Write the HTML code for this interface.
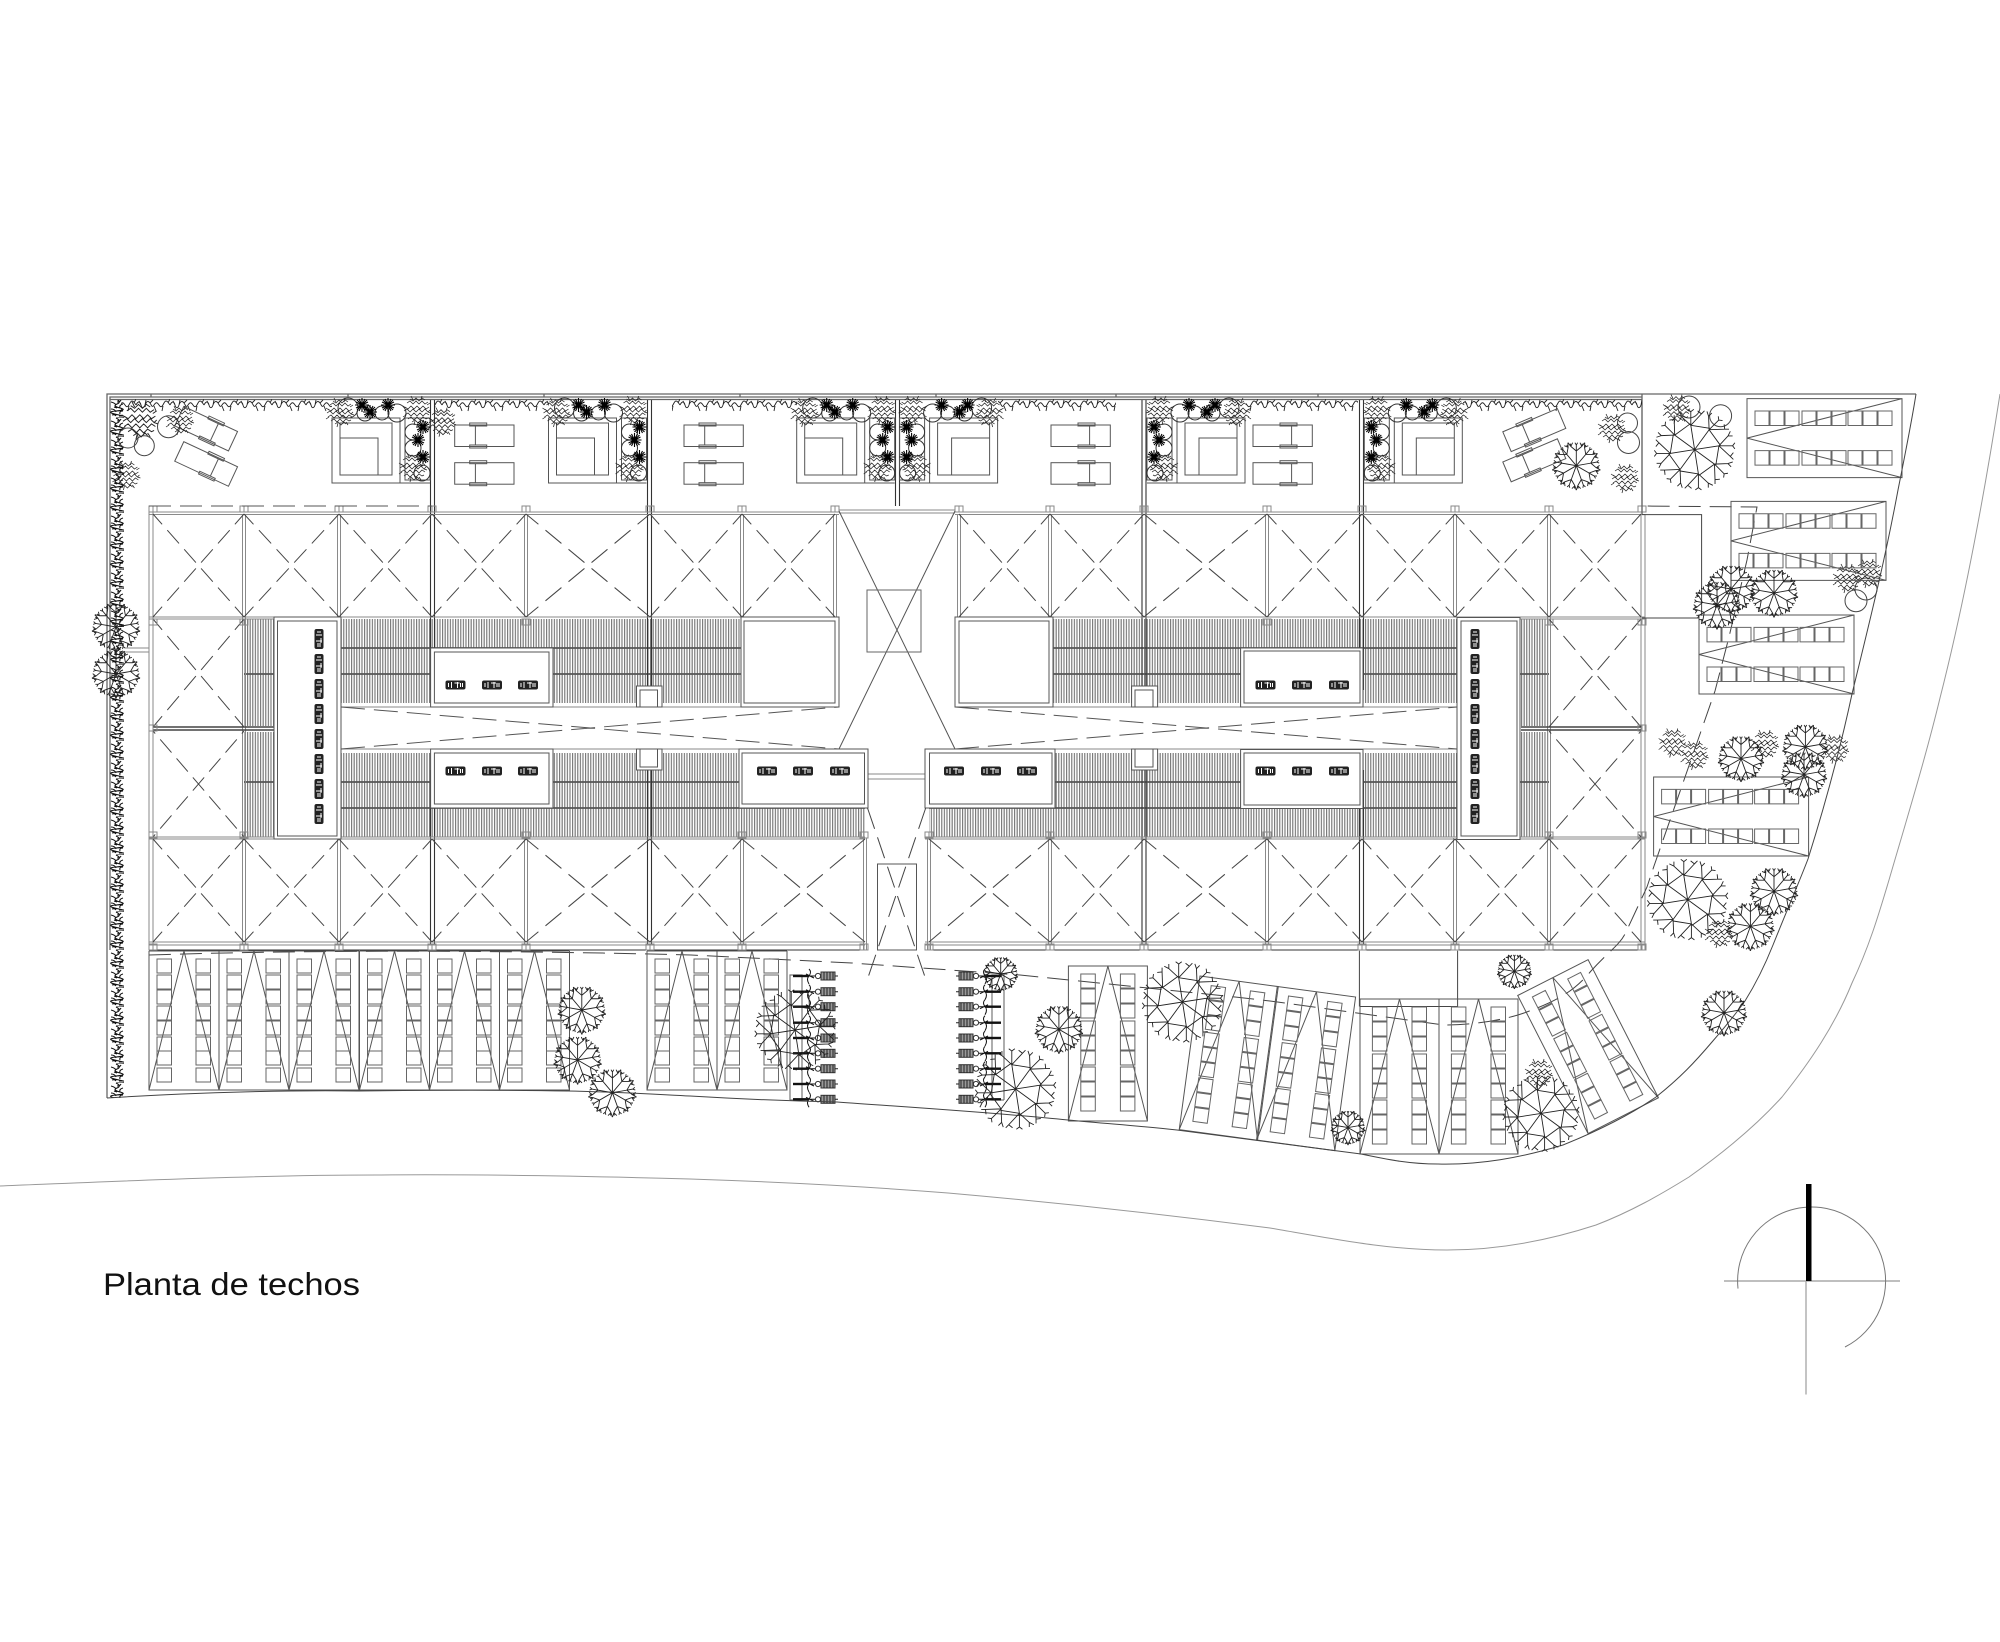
<!DOCTYPE html>
<html lang="es"><head><meta charset="utf-8"><title>Planta de techos</title>
<style>
html,body{margin:0;padding:0;background:#fff}
svg{display:block}
.x path{stroke-dasharray:18 8;stroke-dashoffset:4}
.c path{stroke-dasharray:18 8;stroke-dashoffset:14.5}
</style></head><body>
<svg xmlns="http://www.w3.org/2000/svg" width="2000" height="1642" viewBox="0 0 2000 1642">
<defs>
<pattern id="cor" width="2.6" height="10" patternUnits="userSpaceOnUse"><rect width="2.6" height="10" fill="#fff"/><rect width="1.15" height="10" fill="#777"/></pattern>
<pattern id="vh" x="0" y="399" width="34" height="13" patternUnits="userSpaceOnUse"><path fill="none" stroke="#222" stroke-width=".9" d="M0 6c2-4 4-4 5 0s3 3 4 0 3-5 5-2 2 5 4 2 3-3 5 0 3 2 5-2 4-1 6 2M5 6l-2-4M9 6l1-5M18 7l2 5M27 7l-1 5M32 4l2-4M14 4l3-3"/></pattern>
<pattern id="vv" x="110" y="0" width="14" height="19" patternUnits="userSpaceOnUse"><path fill="none" stroke="#111" stroke-width="1.1" d="M6 0q6 3 1 5t3 4-4 3 3 4-3 3M1 3q4 1 5 3M13 5q-4 1-3 4M1 10q4 0 5 3M13 12q-4 0-3 3M2 16q3-1 4 1M11 1q-1 2-4 2M4 8l3 1M9 17l4 0"/></pattern>
<path id="b1" vector-effect="non-scaling-stroke" d="M0 0V-32L-12-42M0-32L12-42M-12-42L-18-50M-12-42L-8-50M-12-42L-13-48M12-42L18-50M12-42L8-50M12-42L13-48M0-32V-45L-3-50M0-45L3-50"/>
<g id="t"><use href="#b1"/><use href="#b1" transform="rotate(40)"/><use href="#b1" transform="rotate(80)"/><use href="#b1" transform="rotate(120)"/><use href="#b1" transform="rotate(160)"/><use href="#b1" transform="rotate(200)"/><use href="#b1" transform="rotate(240)"/><use href="#b1" transform="rotate(280)"/><use href="#b1" transform="rotate(320)"/></g>
<path id="b2" vector-effect="non-scaling-stroke" d="M0 0L-5-32L-18-44M-5-32L-5-50M-5-32L9-47M-18-44L-24-47M-18-44L-18-50M9-47L4-51M9-47L13-51M-5-32L20-28M-5-50L-9-53M-5-50L-1-53"/>
<g id="T"><use href="#b2"/><use href="#b2" transform="rotate(45)"/><use href="#b2" transform="rotate(90)"/><use href="#b2" transform="rotate(135)"/><use href="#b2" transform="rotate(180)"/><use href="#b2" transform="rotate(225)"/><use href="#b2" transform="rotate(270)"/><use href="#b2" transform="rotate(315)"/></g>
<path id="s" fill="none" stroke="#222" stroke-width=".75" d="M-7-11l3 2 3-3 3 3 3-3 3 2M-10-7l3-2 3 3 3-3 3 3 3-3 3 3 3-2M-12-3l3 2 3-3 3 3 3-3 3 3 3-3 3 3 3-2M-13 1l3-2 3 3 3-3 3 3 3-3 3 3 3-3 3 3 2-2M-12 5l3-2 3 3 3-3 3 3 3-3 3 3 3-3 3 2M-9 9l3-2 3 3 3-3 3 3 3-3 3 2 2-1M-5 12l3-2 3 3 3-3 2 2M-6-14l2 4M5-14l-1 4M13-7l-3 2M14 3l-3-1M-14-4l3 2M-14 7l3-2M-3 15l1-4M8 13l-2-3"/>
<path id="k" fill="none" stroke="#000" stroke-width="1.1" d="M-7 0H7M0-7V7M-5-5L5 5M-5 5L5-5M-6-3L6 3M-6 3L6-3M-3-6L3 6M-3 6L3-6"/>
<g id="un" fill="none" stroke="#555">
<rect x="0" y="418" width="68" height="65"/><path d="M68 483H98"/><rect x="73" y="418" width="25" height="62"/>
<rect x="8" y="423" width="52" height="52"/><path d="M8 438H46V475"/>
<g stroke="#333"><circle cx="16" cy="408" r="10"/><circle cx="33" cy="413" r="8"/><circle cx="50" cy="413" r="7"/><circle cx="65" cy="413" r="9"/><circle cx="81" cy="432" r="8"/><circle cx="81" cy="448" r="8"/><circle cx="90" cy="473" r="8"/></g>
<use href="#s" x="8" y="412"/><use href="#s" x="85" y="410"/><use href="#s" x="81" y="467"/>
<use href="#k" x="30" y="405"/><use href="#k" x="38" y="412"/><use href="#k" x="56" y="405"/><use href="#k" x="91" y="427"/><use href="#k" x="86" y="440"/><use href="#k" x="91" y="457"/>
</g>
<g id="ch" fill="none" stroke="#555"><rect width="59.3" height="21.5"/><rect x="15" y="-2" width="17" height="3"/><rect x="15" y="20" width="17" height="3"/><path d="M20.7 1V20"/></g>
<g id="chm" fill="none" stroke="#555"><rect width="59.3" height="21.5"/><rect x="27" y="-2" width="17" height="3"/><rect x="27" y="20" width="17" height="3"/><path d="M38.6 1V20"/></g>
<path id="sc8" fill="none" stroke="#666" d="M0 8h14.5v14h-14.5zM0 24h14.5v14h-14.5zM0 39h14.5v14h-14.5zM0 55h14.5v14h-14.5zM0 70h14.5v14h-14.5zM0 86h14.5v14h-14.5zM0 100h14.5v14h-14.5zM0 117h14.5v14h-14.5z"/>
<path id="sc9" fill="none" stroke="#666" d="M0 8h14.5v14h-14.5zM0 23h14.5v14h-14.5zM0 38h14.5v14h-14.5zM0 55h14.5v14h-14.5zM0 70h14.5v14h-14.5zM0 85h14.5v14h-14.5zM0 101h14.5v14h-14.5zM0 116h14.5v14h-14.5zM0 131h14.5v14h-14.5z"/>
<g id="b70"><path fill="none" stroke="#555" d="M0 0H70M0 0V139H70V0M0 139L35 0L70 139"/><use href="#sc8" x="8"/><use href="#sc8" x="47"/></g>
<g id="b78"><path fill="none" stroke="#555" d="M0 0H79V155H0ZM0 155L39.5 0L79 155"/><use href="#sc9" x="12.4"/><use href="#sc9" x="52"/></g>
<g id="ic"><rect x="-10" y="-4.5" width="20" height="9" rx="2" fill="#222"/><path fill="none" stroke="#fff" stroke-width="1" d="M-7-2V2M-4-3V3M-1-2H4M2-3V3M5-2V2M7-2V2"/></g>
<g id="iv"><use href="#ic" transform="rotate(90)"/></g>
<g id="rk"><path fill="none" stroke="#111" stroke-width="2.4" d="M0 0H15"/><path fill="none" stroke="#111" stroke-width="1" d="M16-7q3 3 0 7q-3 3 0 8M13-2l8 4M15 0h7"/><circle cx="25" cy="0" r="2.6" fill="none" stroke="#333"/><rect x="28" y="-4" width="14" height="8" fill="#999" stroke="#333"/><path fill="none" stroke="#222" d="M31-4V4M34-4V4M37-4V4M40-4V4M42 0H45"/></g>
<g id="racks"><path fill="none" stroke="#777" stroke-width="1.2" d="M790 1100V975H802V1100H790"/>
<use href="#rk" x="793" y="976"/><use href="#rk" x="793" y="991.7"/><use href="#rk" x="793" y="1006.7"/><use href="#rk" x="793" y="1022.7"/><use href="#rk" x="793" y="1038"/><use href="#rk" x="793" y="1053.3"/><use href="#rk" x="793" y="1068.7"/><use href="#rk" x="793" y="1084"/><use href="#rk" x="793" y="1099.3"/></g>
<path id="po" fill="none" stroke="#888" d="M-4 0h4v6h-4zM0 0h4v6h-4z"/>
</defs>

<rect width="2000" height="1642" fill="#fff"/>

<!-- corrugated roofs -->
<g fill="url(#cor)">
<rect x="244" y="619" width="30" height="107"/><rect x="244" y="732" width="30" height="105"/>
<rect x="341" y="619" width="400" height="84"/><rect x="341" y="753" width="524" height="84"/>
<rect x="1053" y="619" width="404" height="84"/><rect x="929" y="753" width="528" height="84"/>
<rect x="1520" y="619" width="29" height="107"/><rect x="1520" y="732" width="29" height="105"/>
</g>
<path fill="none" stroke="#555" stroke-width="1.7" d="M244 674H274M244 782H274M341 648H741M341 674H741M341 782H740M341 808H865M1053 648H1457M1053 674H1457M929 808H1457M929 782H1457M1520 674H1549M1520 782H1549"/>

<!-- grid lines -->
<path fill="none" stroke="#8a8a8a" d="M149 512V950M153 512V950M1641 514V950M1645 514V950M242.5 514V617M245.5 514V617M337.5 514V617M340.5 514V617M524.5 514V617M527.5 514V617M740.5 514V617M743.5 514V617M833.5 514V617M836.5 514V617M957.5 514V617M960.5 514V617M1048.5 514V617M1051.5 514V617M1265.5 514V617M1268.5 514V617M1453.5 514V617M1456.5 514V617M1547.5 514V617M1550.5 514V617M242.5 617V838M245.5 617V838M1547.5 617V838M1550.5 617V838M242.5 838V945M245.5 838V945M337.5 838V945M340.5 838V945M524.5 838V945M527.5 838V945M740.5 838V945M743.5 838V945M863.5 838V950M866.5 838V950M927.5 838V950M930.5 838V950M1048.5 838V945M1051.5 838V945M1265.5 838V945M1268.5 838V945M1453.5 838V945M1456.5 838V945M1547.5 838V945M1550.5 838V945"/>
<path fill="none" stroke="#333" stroke-width="1.1" d="M430.5 400V690M434.5 400V690M647.5 400V690M651.5 400V690M895.5 400V506M899.5 400V506M1142 400V690M1146 400V690M1359.5 400V690M1363.5 400V690M430.5 770V945M434.5 770V945M647.5 770V945M651.5 770V945M1142 770V945M1146 770V945M1359.5 770V945M1363.5 770V945M1642 400V514"/>
<path fill="none" stroke="#8a8a8a" d="M149 512H839M149 514.5H839M955 512H1645M955 514.5H1645M149 617H839M149 619H274M955 617H1645M1520 619H1645M149 837H865M149 839H865M925 837H1645M925 839H1645M149 942H865M149 945H865M925 942H1645M925 945H1645M839 510H955M839 513H955M341 707H839M341 749H839M955 707H1457M955 749H1457M868 774H925M868 779H925M125 648H149M125 652H149"/>
<path fill="none" stroke="#333" stroke-width="1.1" d="M149 950H865M925 950H1645"/>
<path fill="none" stroke="#444" stroke-width="1.6" d="M153 727H274M153 730H274M1521 727H1641M1521 730H1641"/>

<!-- dashed bay Xs -->
<g class="x" fill="none" stroke="#444" stroke-width="1">
<path pathLength="280" d="M153 514L244 617M244 514L153 617"/><path pathLength="280" d="M244 514L339 617M339 514L244 617"/><path pathLength="280" d="M339 514L432 617M432 514L339 617"/><path pathLength="280" d="M432 514L526 617M526 514L432 617"/><path pathLength="280" d="M526 514L650 617M650 514L526 617"/><path pathLength="280" d="M650 514L742 617M742 514L650 617"/><path pathLength="280" d="M742 514L835 617M835 514L742 617"/>
<path pathLength="280" d="M959 514L1050 617M1050 514L959 617"/><path pathLength="280" d="M1050 514L1144 617M1144 514L1050 617"/><path pathLength="280" d="M1144 514L1267 617M1267 514L1144 617"/><path pathLength="280" d="M1267 514L1362 617M1362 514L1267 617"/><path pathLength="280" d="M1362 514L1455 617M1455 514L1362 617"/><path pathLength="280" d="M1455 514L1549 617M1549 514L1455 617"/><path pathLength="280" d="M1549 514L1641 617M1641 514L1549 617"/>
<path pathLength="280" d="M153 839L244 942M244 839L153 942"/><path pathLength="280" d="M244 839L339 942M339 839L244 942"/><path pathLength="280" d="M339 839L432 942M432 839L339 942"/><path pathLength="280" d="M432 839L526 942M526 839L432 942"/><path pathLength="280" d="M526 839L650 942M650 839L526 942"/><path pathLength="280" d="M650 839L742 942M742 839L650 942"/><path pathLength="280" d="M742 839L865 942M865 839L742 942"/>
<path pathLength="280" d="M929 839L1050 942M1050 839L929 942"/><path pathLength="280" d="M1050 839L1144 942M1144 839L1050 942"/><path pathLength="280" d="M1144 839L1267 942M1267 839L1144 942"/><path pathLength="280" d="M1267 839L1362 942M1362 839L1267 942"/><path pathLength="280" d="M1362 839L1455 942M1455 839L1362 942"/><path pathLength="280" d="M1455 839L1549 942M1549 839L1455 942"/><path pathLength="280" d="M1549 839L1641 942M1641 839L1549 942"/>
<path pathLength="280" d="M153 619L244 727M244 619L153 727"/><path pathLength="280" d="M1549 619L1641 727M1641 619L1549 727"/>
</g>
<g class="c" fill="none" stroke="#444">
<path pathLength="290" d="M153 731L244 837M244 731L153 837"/><path pathLength="290" d="M1549 731L1641 837M1641 731L1549 837"/>
</g>

<!-- boxes -->
<g fill="#fff" stroke="#555">
<rect x="636.5" y="686" width="25.5" height="21"/><rect x="640" y="690" width="17.5" height="17"/>
<rect x="636.5" y="749" width="25.5" height="21"/><rect x="640" y="749" width="17.5" height="18"/>
<rect x="1131.6" y="686" width="26" height="21"/><rect x="1135" y="690" width="18" height="17"/>
<rect x="1131.6" y="749" width="26" height="21"/><rect x="1135" y="749" width="18" height="18"/>
<rect x="274" y="617" width="67" height="222"/><rect x="277.5" y="621" width="59.5" height="215"/>
<rect x="430.6" y="648" width="122.4" height="59"/><rect x="434.4" y="652" width="114.6" height="51"/>
<rect x="430.6" y="749" width="122.4" height="59"/><rect x="434.4" y="753" width="114.6" height="51"/>
<rect x="741" y="617" width="98" height="90"/><rect x="744" y="621" width="91" height="82"/>
<rect x="955" y="617" width="98" height="90"/><rect x="959" y="621" width="90" height="82"/>
<rect x="739" y="749" width="129" height="59"/><rect x="742" y="753" width="122.5" height="51"/>
<rect x="925" y="749" width="130" height="59"/><rect x="929.5" y="753" width="122.5" height="51"/>
<rect x="1240.6" y="648" width="122.4" height="59"/><rect x="1244" y="651" width="116" height="52"/>
<rect x="1240.6" y="749.5" width="122.4" height="59"/><rect x="1244" y="753" width="116" height="52"/>
<rect x="1457" y="617.5" width="63" height="222"/><rect x="1461" y="621" width="56" height="215"/>
</g>
<g>
<use href="#iv" x="319" y="639"/><use href="#iv" x="319" y="664"/><use href="#iv" x="319" y="689"/><use href="#iv" x="319" y="714"/><use href="#iv" x="319" y="739"/><use href="#iv" x="319" y="764"/><use href="#iv" x="319" y="789"/><use href="#iv" x="319" y="814"/>
<use href="#iv" x="1475" y="639"/><use href="#iv" x="1475" y="664"/><use href="#iv" x="1475" y="689"/><use href="#iv" x="1475" y="714"/><use href="#iv" x="1475" y="739"/><use href="#iv" x="1475" y="764"/><use href="#iv" x="1475" y="789"/><use href="#iv" x="1475" y="814"/>
<use href="#ic" x="455.5" y="685"/><use href="#ic" x="492" y="685"/><use href="#ic" x="528" y="685"/>
<use href="#ic" x="455.5" y="771"/><use href="#ic" x="492" y="771"/><use href="#ic" x="528" y="771"/>
<use href="#ic" x="767" y="771"/><use href="#ic" x="803" y="771"/><use href="#ic" x="840" y="771"/>
<use href="#ic" x="954" y="771"/><use href="#ic" x="991" y="771"/><use href="#ic" x="1027" y="771"/>
<use href="#ic" x="1265.5" y="685"/><use href="#ic" x="1302" y="685"/><use href="#ic" x="1339" y="685"/>
<use href="#ic" x="1265.5" y="771"/><use href="#ic" x="1302" y="771"/><use href="#ic" x="1339" y="771"/>
</g>

<!-- posts -->
<g>
<use href="#po" x="153" y="506"/><use href="#po" x="244" y="506"/><use href="#po" x="339" y="506"/><use href="#po" x="432" y="506"/><use href="#po" x="526" y="506"/><use href="#po" x="650" y="506"/><use href="#po" x="742" y="506"/><use href="#po" x="835" y="506"/><use href="#po" x="959" y="506"/><use href="#po" x="1050" y="506"/><use href="#po" x="1144" y="506"/><use href="#po" x="1267" y="506"/><use href="#po" x="1362" y="506"/><use href="#po" x="1455" y="506"/><use href="#po" x="1549" y="506"/><use href="#po" x="1642" y="506"/>
<use href="#po" x="153" y="944"/><use href="#po" x="244" y="944"/><use href="#po" x="339" y="944"/><use href="#po" x="432" y="944"/><use href="#po" x="526" y="944"/><use href="#po" x="650" y="944"/><use href="#po" x="742" y="944"/><use href="#po" x="864" y="944"/><use href="#po" x="929" y="944"/><use href="#po" x="1050" y="944"/><use href="#po" x="1144" y="944"/><use href="#po" x="1267" y="944"/><use href="#po" x="1362" y="944"/><use href="#po" x="1455" y="944"/><use href="#po" x="1549" y="944"/><use href="#po" x="1642" y="944"/>
<use href="#po" x="153" y="619"/><use href="#po" x="244" y="619"/><use href="#po" x="526" y="619"/><use href="#po" x="1267" y="619"/><use href="#po" x="1549" y="619"/><use href="#po" x="1642" y="619"/>
<use href="#po" x="153" y="832"/><use href="#po" x="244" y="832"/><use href="#po" x="526" y="832"/><use href="#po" x="742" y="832"/><use href="#po" x="864" y="832"/><use href="#po" x="929" y="832"/><use href="#po" x="1050" y="832"/><use href="#po" x="1267" y="832"/><use href="#po" x="1549" y="832"/><use href="#po" x="1642" y="832"/>
<use href="#po" x="153" y="725"/><use href="#po" x="1642" y="725"/>
</g>

<!-- outer walls and top -->
<path fill="none" stroke="#666" stroke-width="1.3" d="M107 1098V394H1916M110 950V397H1642M110 399.5H1642M151 394V397M348 394V397M544 394V397M740 394V397M936 394V397M1116 394V397M1318 394V397M1642 394V514"/>
<path fill="none" stroke="#444" d="M1642 514.6H1701.6V615.7M1642 618H1699M1359.4 950.7V1006.5M1457.6 950.7V1006.5H1360"/>

<!-- central X -->
<path fill="none" stroke="#555" d="M839 511L955 749M955 511L839 749"/>
<rect x="867" y="590" width="54" height="62" fill="none" stroke="#666"/>
<rect x="877.5" y="864" width="39" height="86" fill="none" stroke="#555"/>
<path fill="none" stroke="#444" stroke-dasharray="22 9" d="M867.5 808L925.7 979M925.7 808L867.5 979"/>
<path fill="none" stroke="#555" stroke-dasharray="24 9" d="M341 707L839 749M341 749L839 707M955 707L1457 749M955 749L1457 707"/>
<path fill="none" stroke="#555" stroke-dasharray="22 9" d="M149 506H432"/>
<path fill="none" stroke="#444" stroke-dasharray="22 9" d="M149 955C300 950 500 950 691 955L852 963L1020 975L1128 986L1235 997L1270 1001L1444 1025C1480 1025 1510 1018 1524 1013C1560 1000 1575 990 1591 971C1610 950 1620 945 1626 932L1647 887L1654 866L1684 780L1715 691L1729 637L1747 560L1757 507L1642 506"/>

<!-- terrace -->
<g fill="url(#vh)"><rect x="121" y="399" width="211" height="13"/><rect x="434" y="399" width="115" height="13"/><rect x="672" y="399" width="125" height="13"/><rect x="998" y="399" width="118" height="13"/><rect x="1246" y="399" width="112" height="13"/><rect x="1463" y="399" width="179" height="13"/></g>
<rect x="110" y="400" width="14" height="698" fill="url(#vv)"/>
<use href="#un" x="332"/><use href="#un" x="548.5"/><use href="#un" x="796.7"/>
<use href="#un" transform="translate(997.6 0) scale(-1 1)"/><use href="#un" transform="translate(1245 0) scale(-1 1)"/><use href="#un" transform="translate(1462.3 0) scale(-1 1)"/>
<use href="#ch" x="454.7" y="425"/><use href="#ch" x="454.7" y="462.7"/><use href="#ch" x="684" y="425"/><use href="#ch" x="684" y="462.7"/>
<use href="#chm" x="1051" y="425"/><use href="#chm" x="1051" y="462.7"/><use href="#chm" x="1253" y="425"/><use href="#chm" x="1253" y="462.7"/>
<use href="#chm" transform="translate(183.8 406.4) rotate(25)"/><use href="#chm" transform="translate(183.8 441.7) rotate(25)"/>
<use href="#ch" transform="translate(1502.8 431.8) rotate(-23)"/><use href="#ch" transform="translate(1502.8 462) rotate(-23)"/>
<g fill="none" stroke="#444"><circle cx="128" cy="438" r="10"/><circle cx="144.3" cy="445.7" r="10"/><circle cx="168.5" cy="426.7" r="11"/><circle cx="1627.5" cy="423" r="10"/><circle cx="1628.5" cy="442.5" r="11"/><circle cx="1689" cy="407" r="11"/><circle cx="1720.6" cy="415.7" r="11"/><circle cx="1866" cy="589" r="11"/><circle cx="1856" cy="600.7" r="11"/></g>
<g>
<use href="#s" transform="translate(139.8 420) scale(1.3)"/><use href="#s" x="180" y="420"/><use href="#s" x="126.4" y="475"/><use href="#s" x="442" y="421.7"/>
<use href="#s" x="1612" y="428"/><use href="#s" x="1625" y="478"/><use href="#s" x="1677" y="408.6"/><use href="#s" x="1847" y="578"/><use href="#s" x="1868" y="573"/><use href="#s" x="1672.7" y="742.5"/><use href="#s" x="1694.6" y="755"/><use href="#s" x="1765" y="744"/><use href="#s" x="1835" y="748.6"/><use href="#s" x="1719" y="933"/><use href="#s" x="1539" y="1073"/>
</g>

<!-- parking -->
<use href="#b70" x="149" y="951"/><use href="#b70" x="219" y="951"/><use href="#b70" x="289" y="951"/><use href="#b70" x="359.5" y="951"/><use href="#b70" x="429.5" y="951"/><use href="#b70" x="499.5" y="951"/>
<use href="#b70" x="647" y="951"/><use href="#b70" x="717" y="951"/>
<use href="#b78" x="1068.4" y="966"/>
<use href="#b78" x="1360" y="999"/><use href="#b78" x="1439" y="999"/>
<g transform="translate(1200 976) rotate(7.7)"><use href="#b78"/><use href="#b78" x="78"/></g>
<use href="#b78" transform="translate(1517.7 995.5) rotate(-27)"/>
<use href="#b78" transform="matrix(0 1 1 0 1747 398.6)"/>
<use href="#b78" transform="matrix(0 1 1 0 1731 501.4)"/>
<use href="#b78" transform="matrix(0 1 1 0 1699 615)"/>
<use href="#b78" transform="matrix(0 1 1 0 1653.6 777)"/>

<!-- racks -->
<use href="#racks"/><use href="#racks" transform="translate(1794 0) scale(-1 1)"/>

<!-- site curves -->
<path fill="none" stroke="#444" d="M107 1098C200 1092 300 1090 358 1091C430 1090 520 1090 568 1091C620 1092 650 1094 690 1096C740 1099 790 1101 837 1102C920 1108 1000 1113 1068 1120C1110 1124 1140 1126 1177 1130C1230 1137 1280 1143 1361 1154C1390 1160 1410 1164 1438 1164C1480 1165 1520 1158 1563 1145C1600 1130 1630 1115 1656 1097C1680 1078 1695 1062 1712 1042C1725 1027 1735 1015 1745 1001C1755 985 1765 965 1773 945C1785 915 1800 880 1808 859C1825 805 1840 750 1852 694C1870 620 1885 560 1898 490C1905 455 1912 420 1916 394"/>
<path fill="none" stroke="#999" d="M0 1186C100 1182 250 1175 377 1175C480 1174 580 1176 690 1179C780 1182 860 1186 948 1193C1050 1202 1170 1215 1270 1228C1340 1240 1390 1250 1447 1250C1500 1250 1550 1240 1596 1225C1630 1212 1660 1195 1689 1177C1720 1155 1755 1127 1782 1097C1810 1062 1835 1025 1852 983C1870 945 1880 910 1889 880C1905 825 1925 760 1940 698C1965 600 1985 490 2000 394"/>

<!-- trees -->
<g fill="none" stroke="#222" stroke-width=".9">
<use href="#t" transform="translate(116 627) scale(.46)"/><use href="#t" transform="translate(116 674) scale(.46)"/>
<use href="#t" transform="translate(581.8 1010) scale(.46)"/><use href="#t" transform="translate(577.6 1060) scale(.46)"/><use href="#t" transform="translate(612.4 1092.7) scale(.46)"/>
<use href="#t" transform="translate(1058.9 1029.3) scale(.46)"/><use href="#t" transform="translate(1000.7 974) scale(.33)"/>
<use href="#t" transform="translate(1514.4 971.4) scale(.33)"/><use href="#t" transform="translate(1724 1012.8) scale(.44)"/><use href="#t" transform="translate(1348 1127.6) scale(.33)"/>
<use href="#t" transform="translate(1576.3 465.7) scale(.46)"/><use href="#t" transform="translate(1731 589) scale(.46)"/><use href="#t" transform="translate(1717 605) scale(.46)"/><use href="#t" transform="translate(1774 593) scale(.46)"/>
<use href="#t" transform="translate(1741 758.6) scale(.44)"/><use href="#t" transform="translate(1805.4 747) scale(.44)"/><use href="#t" transform="translate(1804 774.6) scale(.44)"/>
<use href="#t" transform="translate(1774 891.4) scale(.46)"/><use href="#t" transform="translate(1750.4 926.4) scale(.46)"/>
<use href="#T" transform="translate(1694.6 449.6) scale(.76)"/><use href="#T" transform="translate(1687.6 899.6) scale(.76)"/><use href="#T" transform="translate(1015.6 1089) scale(.76)"/><use href="#T" transform="translate(1182.5 1002) scale(.76)"/><use href="#T" transform="translate(795 1030) scale(.76)"/><use href="#T" transform="translate(1541 1113.4) scale(.72)"/>
</g>

<!-- north -->
<path fill="none" stroke="#aaa" stroke-width="1.4" d="M1724 1281H1900M1806 1281V1394.5"/>
<path fill="none" stroke="#777" d="M1738 1288.6A74 74 0 1 1 1845 1347"/>
<rect x="1806" y="1184" width="5.5" height="97" fill="#000"/>

<text x="103" y="1295" font-family="'Liberation Sans',sans-serif" font-size="31.5" fill="#111" textLength="257" lengthAdjust="spacingAndGlyphs">Planta de techos</text>
</svg>
</body></html>
